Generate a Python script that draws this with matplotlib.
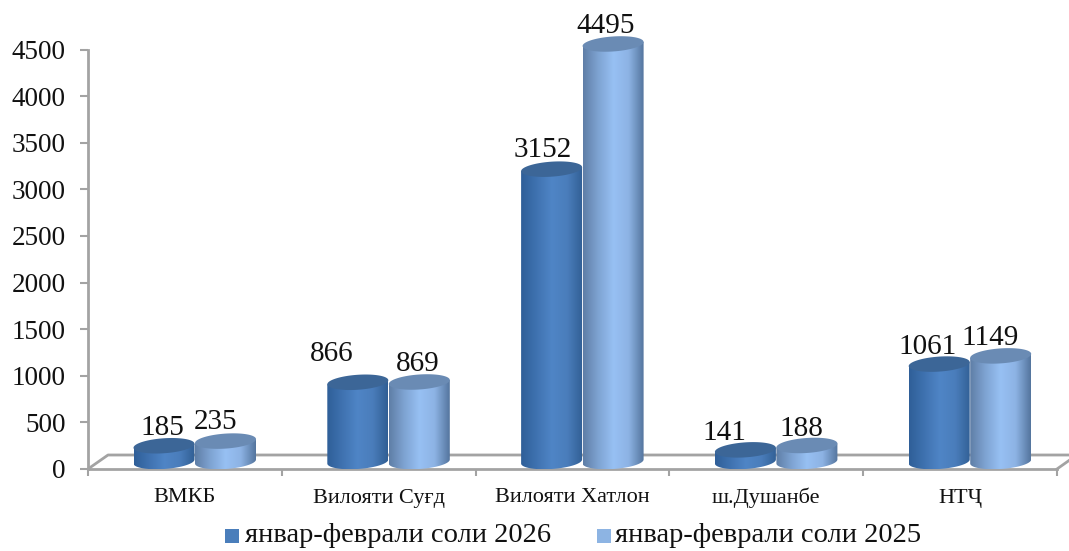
import matplotlib
matplotlib.use('Agg')
import matplotlib.pyplot as plt
import numpy as np
from matplotlib.patches import Polygon, Rectangle
from matplotlib.colors import LinearSegmentedColormap

categories = ['ВМКБ', 'Вилояти Суғд', 'Вилояти Хатлон', 'ш.Душанбе', 'НТҶ']
values_2026 = [185, 866, 3152, 141, 1061]
values_2025 = [235, 869, 4495, 188, 1149]
name_2026 = 'январ-феврали соли 2026'
name_2025 = 'январ-феврали соли 2025'
y_ticks = [0, 500, 1000, 1500, 2000, 2500, 3000, 3500, 4000, 4500]

W, H = 1069, 551
plt.rcParams['font.family'] = ['Liberation Serif', 'DejaVu Serif']

fig = plt.figure(figsize=(W / 100, H / 100), dpi=100)
# axes box in pixels: left 88, right 1057, zero line 469, top 49.5
ax = fig.add_axes([88 / W, (H - 469) / H, 969 / W, 419.5 / H])
ax.set_xlim(0, 5)
ax.set_ylim(0, 4500)
ax.patch.set_visible(False)

px_x = 5 / 969
px_y = 4500 / 419.5
grey = '#a3a3a3'

for s in ['top', 'right']:
    ax.spines[s].set_visible(False)
for s in ['left', 'bottom']:
    ax.spines[s].set_color(grey)
    ax.spines[s].set_linewidth(2)
ax.set_yticks(y_ticks)
ax.set_xticks(range(6))
ax.set_xticklabels([])
ax.tick_params(axis='y', length=6, width=1.5, color=grey, labelsize=19.5, pad=10, labelcolor='#111111')
ax.tick_params(axis='x', length=5, width=1.5, color=grey)

# floor of the 3d box
dx, dy = 20 * px_x, 14 * px_y
ax.plot([0, dx, 5 + 12 * px_x], [0, dy, dy], color=grey, lw=2, clip_on=False, zorder=1)
ax.plot([5, 5 + 12 * px_x], [0, 8.5 * px_y], color=grey, lw=2, clip_on=False, zorder=1)

dark = LinearSegmentedColormap.from_list('d', ['#2f5f98', '#3f72b0', '#4f85c6', '#4a7dbb', '#315f94'])
light = LinearSegmentedColormap.from_list('l', ['#5f7ea6', '#7ea3d2', '#97c0f3', '#8db3e4', '#54759e'])
top_dark = '#3c6697'
top_light = '#6a8bb4'

half_w = 30.5 * px_x
b = 7.5 * px_y
tilt = 2 * px_y
t = np.linspace(0, 2 * np.pi, 100)


def cylinder(cx, val, cmap, top_col, z):
    y0 = b
    y1 = val + b - 1.5 * px_y
    lower = t[50:]
    xs = cx + half_w * np.cos(lower)
    ys = y0 + b * np.sin(lower) + tilt * np.cos(lower)
    outline = list(zip(xs, ys)) + [(cx + half_w, y1 + tilt), (cx - half_w, y1 - tilt)]
    clip = Polygon(outline, closed=True, transform=ax.transData, fc='none', ec='none')
    ax.add_patch(clip)
    grad = np.linspace(0, 1, 256).reshape(1, -1)
    im = ax.imshow(grad, cmap=cmap, extent=[cx - half_w, cx + half_w, 0, y1 + b], aspect='auto',
                   zorder=z, clip_on=True)
    # the image would otherwise stop at the top of the axes
    im.set_clip_box(fig.bbox)
    im.set_clip_path(clip)
    top = Polygon(list(zip(cx + half_w * np.cos(t), y1 + b * np.sin(t) + tilt * np.cos(t))),
                  closed=True, fc=top_col, ec='none', zorder=z + 0.1, clip_on=False)
    ax.add_patch(top)
    return y1


# label shifts from the top of each cylinder, pixels
shift_2026 = [(-2, 18), (-26, 28), (-9, 19), (-21, 17), (-12, 17)]
shift_2025 = [(-10, 19), (-2, 18), (-7, 18), (-6, 16), (-11, 18)]

for i, cat in enumerate(categories):
    c1 = i + 76 * px_x
    c2 = i + 137.5 * px_x
    top1 = cylinder(c1, values_2026[i], dark, top_dark, 3)
    top2 = cylinder(c2, values_2025[i], light, top_light, 4)
    ax.annotate(str(values_2026[i]), (c1, top1), xytext=shift_2026[i], textcoords='offset pixels',
                ha='center', va='center', fontsize=21, color='#111111', annotation_clip=False, zorder=6)
    ax.annotate(str(values_2025[i]), (c2, top2), xytext=shift_2025[i], textcoords='offset pixels',
                ha='center', va='center', fontsize=21, color='#111111', annotation_clip=False, zorder=6)
    ax.annotate(cat, (i + 0.5, 0), xytext=(0, -29), textcoords='offset pixels', ha='center', va='center',
                fontsize=16, color='#111111', annotation_clip=False)

ax.set_xlim(0, 5)
ax.set_ylim(0, 4500)

# legend
fig.add_artist(Rectangle((225 / W, 1 - 543 / H), 14 / W, 14 / H, transform=fig.transFigure, fc='#4a7ebb', ec='none'))
fig.add_artist(Rectangle((597 / W, 1 - 543 / H), 14 / W, 14 / H, transform=fig.transFigure, fc='#8db4e3', ec='none'))
fig.text(245 / W, 1 - 536 / H, name_2026, fontsize=20.5, va='center', color='#111111')
fig.text(615 / W, 1 - 536 / H, name_2025, fontsize=20.5, va='center', color='#111111')

fig.savefig('out.png', dpi=100)
